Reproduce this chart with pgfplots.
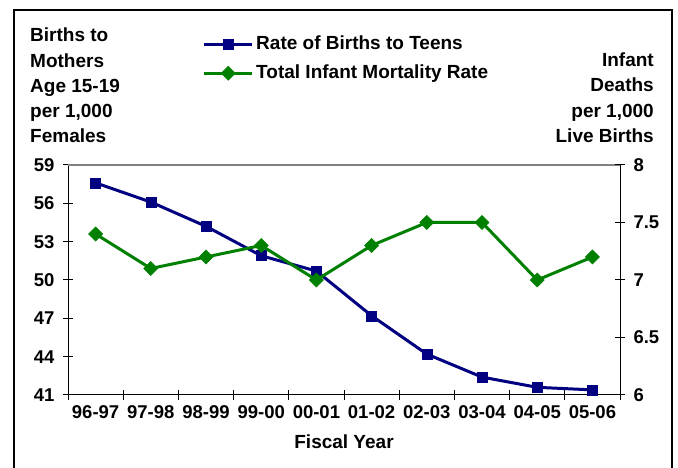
\documentclass[border=0pt]{standalone}
\usepackage{fontspec}
\setmainfont{Liberation Sans}
\usepackage{pgfplots}
\pgfplotsset{compat=1.18}
\definecolor{navy}{RGB}{0,0,128}
\definecolor{dgreen}{RGB}{0,128,0}
\newcommand{\F}{\fontsize{19bp}{22bp}\selectfont\bfseries}
\newcommand{\T}{\fontsize{18.5bp}{22bp}\selectfont\bfseries}
\begin{document}
\begin{tikzpicture}[x=1bp,y=1bp]
\useasboundingbox (0,0) rectangle (678,468);
\draw[line width=2bp] (14,-5) -- (14,458) -- (672,458) -- (672,-5);
% left title
\node[anchor=base west,inner sep=0pt,font=\F] at (30,468-42) {Births to};
\node[anchor=base west,inner sep=0pt,font=\F] at (30,468-68) {Mothers};
\node[anchor=base west,inner sep=0pt,font=\F] at (30,468-93) {Age 15-19};
\node[anchor=base west,inner sep=0pt,font=\F] at (30,468-118) {per 1,000};
\node[anchor=base west,inner sep=0pt,font=\F] at (30,468-143) {Females};
% right title
\node[anchor=base east,inner sep=0pt,font=\F] at (654,468-67) {Infant};
\node[anchor=base east,inner sep=0pt,font=\F] at (654,468-92) {Deaths};
\node[anchor=base east,inner sep=0pt,font=\F] at (654,468-118) {per 1,000};
\node[anchor=base east,inner sep=0pt,font=\F] at (654,468-143) {Live Births};
\begin{axis}[
  at={(68bp,73bp)}, anchor=south west, width=552bp, height=230bp, scale only axis,
  xmin=-0.5, xmax=9.5, ymin=41, ymax=59,
  axis x line*=bottom, axis y line*=left,
  axis line style={-, line width=1bp, black},
  xtick={-0.5,0.5,...,9.5}, xticklabels={},
  extra x ticks={0,1,...,9},
  extra x tick labels={96-97,97-98,98-99,99-00,00-01,01-02,02-03,03-04,04-05,05-06},
  extra x tick style={major tick length=0pt},
  ytick={41,44,...,59},
  tick align=center, major tick length=10bp,
  tick style={black, line width=1bp},
  ticklabel style={font=\T},
  xticklabel style={yshift=-7bp},
  yticklabel style={xshift=-5bp},
  /pgf/number format/assume math mode=true,
  xlabel={Fiscal Year},
  xlabel style={font=\F, at={(axis description cs:0.5,0)}, anchor=base, yshift=-54bp},
  legend style={draw=none, fill=none, at={(axis description cs:0.2437,1.576)},
    anchor=north west, font=\F, inner sep=0pt, row sep=6bp,
    nodes={inner sep=2.5bp, text height=14bp, text depth=4bp}},
  legend cell align=left,
  legend image code/.code={\draw[#1, mark repeat=2, mark phase=2] plot coordinates {(0bp,0bp)(24bp,0bp)(48bp,0bp)};},
]
\addplot[navy, line width=3bp, mark=square*, mark size=5bp, mark options={solid, line width=0.5bp}]
  coordinates {(0,57.6)(1,56.1)(2,54.2)(3,51.9)(4,50.7)(5,47.2)(6,44.2)(7,42.4)(8,41.6)(9,41.4)};
\addlegendentry{Rate of Births to Teens}
\addlegendimage{dgreen, line width=3bp, mark=square*, mark size=5bp, mark options={solid, line width=0.5bp, rotate=45}}
\addlegendentry{Total Infant Mortality Rate}
\draw[gray, line width=1.5bp] (rel axis cs:0,1) -- (rel axis cs:1,1);
\end{axis}
\begin{axis}[
  at={(68bp,73bp)}, anchor=south west, width=552bp, height=230bp, scale only axis,
  xmin=-0.5, xmax=9.5, ymin=6, ymax=8,
  axis x line=none, axis y line*=right,
  axis line style={-, line width=1bp, black},
  ytick={6,6.5,...,8},
  tick align=center, major tick length=10bp,
  tick style={black, line width=1bp},
  ticklabel style={font=\T},
  yticklabel style={xshift=5bp},
  /pgf/number format/assume math mode=true,
]
\addplot[dgreen, line width=3bp, mark=square*, mark size=5bp, mark options={solid, line width=0.5bp, rotate=45}]
  coordinates {(0,7.4)(1,7.1)(2,7.2)(3,7.3)(4,7.0)(5,7.3)(6,7.5)(7,7.5)(8,7.0)(9,7.2)};
\end{axis}
\end{tikzpicture}
\end{document}
